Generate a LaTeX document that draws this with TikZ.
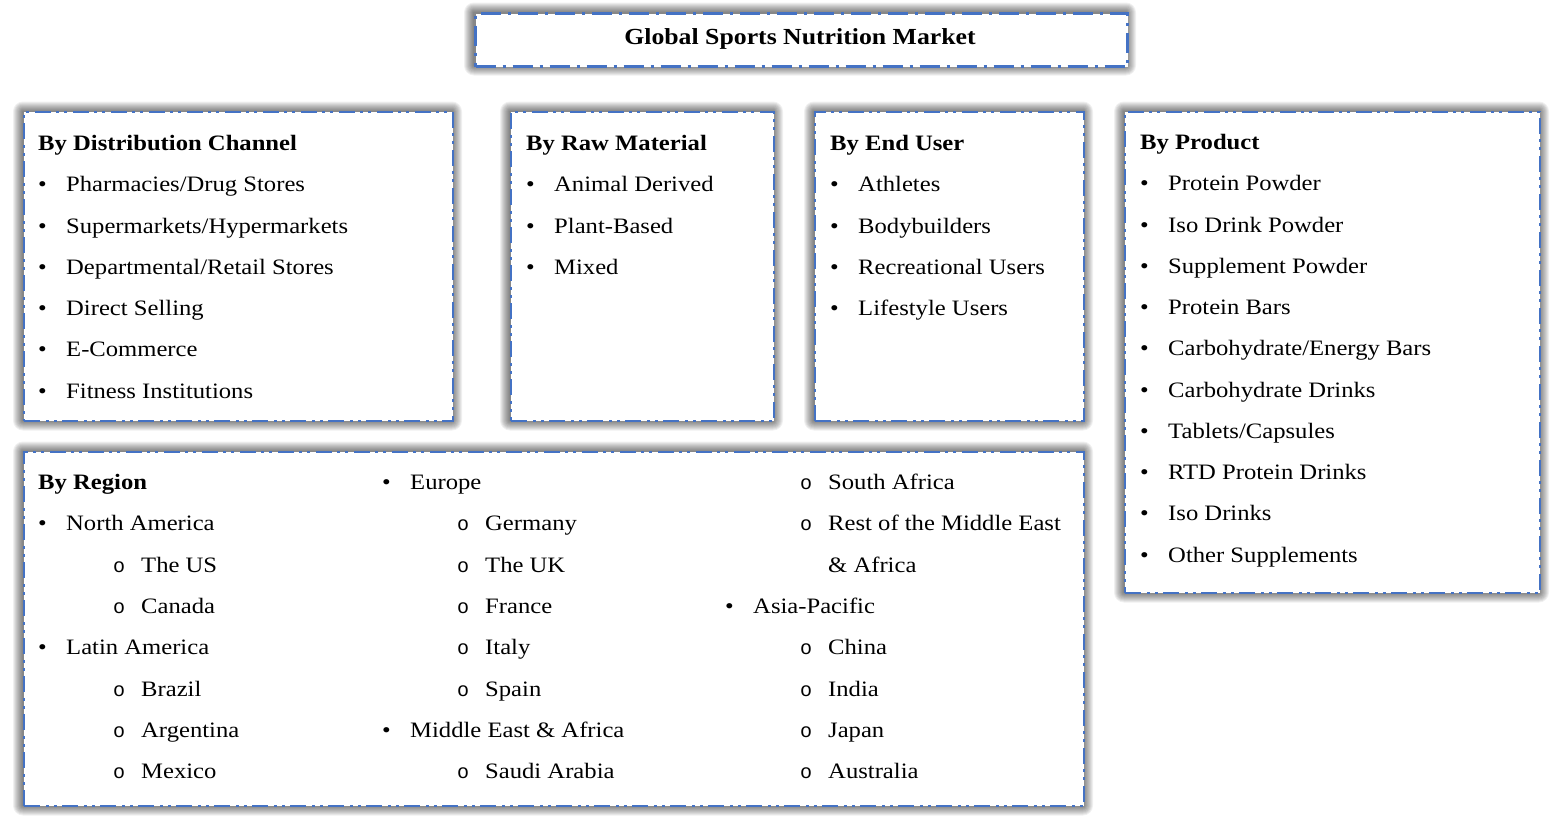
\documentclass[tikz,border=0pt]{standalone}
\usepackage{fontspec}
\setmainfont{Liberation Serif}[FakeStretch=1.12]
\newfontfamily\submono{Liberation Mono}
\definecolor{bord}{HTML}{4472C4}
\tikzset{
 panel/.style={draw=bord, line width=2pt, fill=white, inner sep=0pt, anchor=north west,
   dash pattern=on 16pt off 6pt on 3pt off 5pt on 3pt off 5pt},
 titlebox/.style={panel, line width=3pt, dash pattern=on 20pt off 7pt on 3pt off 7pt},
 glow/.style={fill=black, opacity=0.06},
 txt/.style={anchor=base west, inner sep=0pt, font=\fontsize{22}{26}\selectfont},
 head/.style={anchor=base west, inner sep=0pt, font=\fontsize{22}{26}\selectfont\bfseries},
 bul/.style={anchor=base, inner sep=0pt, font=\fontsize{22}{26}\selectfont},
 subb/.style={anchor=base, inner sep=0pt, font=\fontsize{20}{24}\submono},
}
\newcommand\itemat[5]{\node[bul] (#1b) at (#2,#4) {•};\node[txt] (#1) at (#3,#4) {#5};}
\newcommand\subat[5]{\node[subb] (#1b) at (#2,#4) {o};\node[txt] (#1) at (#3,#4) {#5};}
\newcommand\glowbox[4]{\foreach \g in {1,...,10}{\fill[glow, rounded corners=\g pt] (#1-\g,#2-\g+0.5) rectangle (#3+\g,#4+\g+0.5);}}
\begin{document}
\begin{tikzpicture}[x=1pt,y=-1pt]
\useasboundingbox (0,0) rectangle (1555,820);
\fill[white] (0,0) rectangle (1555,820);
% shadows
\glowbox{474}{12}{1126}{65}
\glowbox{23}{111}{452}{420}
\glowbox{510}{111}{773}{420}
\glowbox{814}{111}{1083}{420}
\glowbox{1124}{111}{1539}{592}
\glowbox{23}{451}{1083}{805}
% panels
\node[titlebox, minimum width=652pt, minimum height=53pt] (tbox) at (474,12) {};
\node[font=\fontsize{23}{27}\selectfont\bfseries, inner sep=0pt] (title) at (800,39) {Global Sports Nutrition Market};
\node[panel, minimum width=429pt, minimum height=309pt] (p1) at (23,111) {};
\node[panel, minimum width=263pt, minimum height=309pt] (p2) at (510,111) {};
\node[panel, minimum width=269pt, minimum height=309pt] (p3) at (814,111) {};
\node[panel, minimum width=415pt, minimum height=481pt] (p4) at (1124,111) {};
\node[panel, minimum width=1060pt, minimum height=354pt] (p5) at (23,451) {};
% distribution channel
\node[head] (h1) at (38,150.5) {By Distribution Channel};
\itemat{d1}{42.5}{66}{191.75}{Pharmacies/Drug Stores}
\itemat{d2}{42.5}{66}{233}{Supermarkets/Hypermarkets}
\itemat{d3}{42.5}{66}{274.25}{Departmental/Retail Stores}
\itemat{d4}{42.5}{66}{315.5}{Direct Selling}
\itemat{d5}{42.5}{66}{356.75}{E-Commerce}
\itemat{d6}{42.5}{66}{398}{Fitness Institutions}
% raw material
\node[head] (h2) at (526,150.5) {By Raw Material};
\itemat{r1}{530.5}{554}{191.75}{Animal Derived}
\itemat{r2}{530.5}{554}{233}{Plant-Based}
\itemat{r3}{530.5}{554}{274.25}{Mixed}
% end user
\node[head] (h3) at (830,150.5) {By End User};
\itemat{e1}{834.5}{858}{191.75}{Athletes}
\itemat{e2}{834.5}{858}{233}{Bodybuilders}
\itemat{e3}{834.5}{858}{274.25}{Recreational Users}
\itemat{e4}{834.5}{858}{315.5}{Lifestyle Users}
% product
\node[head] (h4) at (1140,149.5) {By Product};
\itemat{q1}{1144.5}{1168}{190.75}{Protein Powder}
\itemat{q2}{1144.5}{1168}{232}{Iso Drink Powder}
\itemat{q3}{1144.5}{1168}{273.25}{Supplement Powder}
\itemat{q4}{1144.5}{1168}{314.5}{Protein Bars}
\itemat{q5}{1144.5}{1168}{355.75}{Carbohydrate/Energy Bars}
\itemat{q6}{1144.5}{1168}{397}{Carbohydrate Drinks}
\itemat{q7}{1144.5}{1168}{438.25}{Tablets/Capsules}
\itemat{q8}{1144.5}{1168}{479.5}{RTD Protein Drinks}
\itemat{q9}{1144.5}{1168}{520.75}{Iso Drinks}
\itemat{q10}{1144.5}{1168}{562}{Other Supplements}
% region col 1
\node[head] (h5) at (38,489.5) {By Region};
\itemat{na}{42.5}{66}{530.8}{North America}
\subat{us}{119}{141}{572.1}{The US}
\subat{ca}{119}{141}{613.4}{Canada}
\itemat{la}{42.5}{66}{654.7}{Latin America}
\subat{br}{119}{141}{696}{Brazil}
\subat{ar}{119}{141}{737.3}{Argentina}
\subat{mx}{119}{141}{778.6}{Mexico}
% region col 2
\itemat{eu}{386.5}{410}{489.5}{Europe}
\subat{de}{463}{485}{530.8}{Germany}
\subat{uk}{463}{485}{572.1}{The UK}
\subat{fr}{463}{485}{613.4}{France}
\subat{it}{463}{485}{654.7}{Italy}
\subat{es}{463}{485}{696}{Spain}
\itemat{mea}{386.5}{410}{737.3}{Middle East \& Africa}
\subat{sa}{463}{485}{778.6}{Saudi Arabia}
% region col 3
\subat{za}{806}{828}{489.5}{South Africa}
\subat{rme}{806}{828}{530.8}{Rest of the Middle East}
\node[txt] (rme2) at (828,572.1) {\& Africa};
\itemat{ap}{729.5}{753}{613.4}{Asia-Pacific}
\subat{cn}{806}{828}{654.7}{China}
\subat{in}{806}{828}{696}{India}
\subat{jp}{806}{828}{737.3}{Japan}
\subat{au}{806}{828}{778.6}{Australia}
\end{tikzpicture}
\end{document}
